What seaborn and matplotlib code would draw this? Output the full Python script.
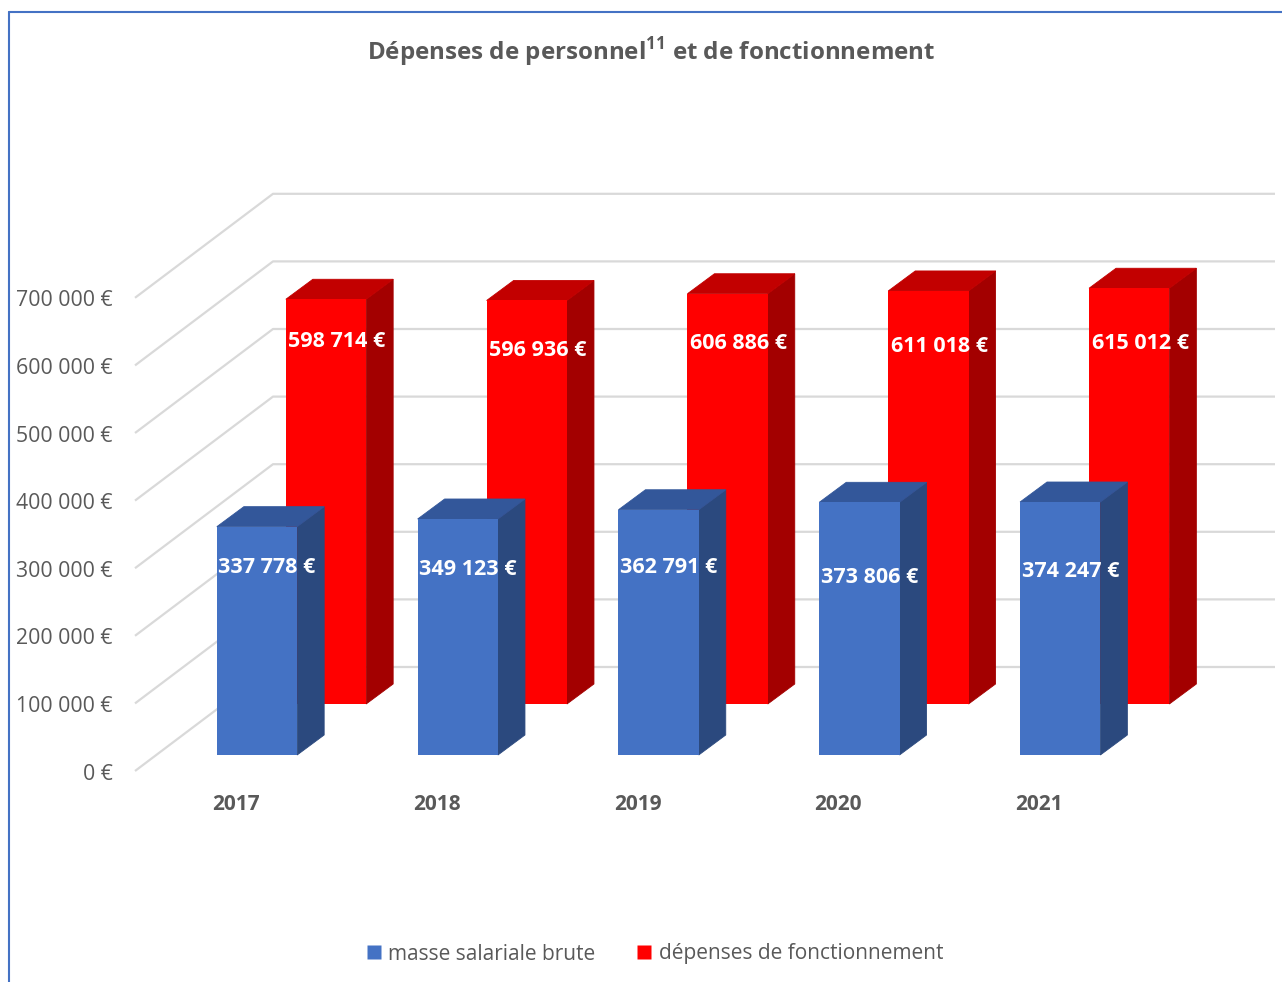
import pandas as pd
import seaborn as sns
import matplotlib.pyplot as plt
from matplotlib.patches import Polygon
from matplotlib.lines import Line2D
from matplotlib.transforms import ScaledTranslation

# Données
annees = ['2017', '2018', '2019', '2020', '2021']
masse_salariale = [337778, 349123, 362791, 373806, 374247]
fonctionnement = [598714, 596936, 606886, 611018, 615012]
graduations = [0, 100000, 200000, 300000, 400000, 500000, 600000, 700000]
series = ['masse salariale brute', 'dépenses de fonctionnement']

# Couleurs (face, côté, dessus)
BLEU = ('#4472C4', '#2B497E', '#33579A')
ROUGE = ('#FF0000', '#A30000', '#C20000')
GRIS = '#595959'

# Mise en page en pixels (pseudo 3D)
CAT_PX = 200.8           # pixels par catégorie
VAL_PX = 67.6 / 100000   # pixels par euro
X0, Y0 = 257, 227        # origine de la rangée avant (depuis le bas)
PROF = (27, 20)          # profondeur d'une barre
RANG = (69, 51)          # décalage de la rangée arrière
MUR_AV = (-122, -16)
MUR_AR = (16, 88)
MUR_FIN = 1018
# étiquettes placées à la main sous le sommet (px)
ETIQ_BLEU = [41, 51, 58, 75, 69]
ETIQ_ROUGE = [42, 50, 50, 56, 55]


def euros(v):
    return f'{v:,.0f} €'.replace(',', ' ')


def faces(ax, bar, couleurs, tr, z):
    x, y = bar.get_x(), bar.get_y()
    w, h = bar.get_width(), bar.get_height()
    dx, dy = PROF[0] / CAT_PX, PROF[1] / VAL_PX
    cote = Polygon([(x + w, y), (x + w + dx, y + dy), (x + w + dx, y + h + dy), (x + w, y + h)],
                   closed=True, facecolor=couleurs[1], edgecolor=couleurs[1], lw=0.6,
                   zorder=z - 0.1, transform=tr)
    dessus = Polygon([(x, y + h), (x + dx, y + h + dy), (x + w + dx, y + h + dy), (x + w, y + h)],
                     closed=True, facecolor=couleurs[2], edgecolor=couleurs[2], lw=0.6,
                     zorder=z - 0.1, transform=tr)
    ax.add_patch(cote)
    ax.add_patch(dessus)


sns.set_style('white')
plt.rcParams['font.family'] = ['Open Sans', 'DejaVu Sans']
plt.rcParams['mathtext.fontset'] = 'custom'
plt.rcParams['mathtext.bf'] = 'Open Sans:bold'
plt.rcParams['mathtext.rm'] = 'Open Sans'

fig = plt.figure(figsize=(12.82, 9.82), dpi=100)
ax = fig.add_axes([0, 0, 1, 1])

df = pd.DataFrame({'annee': annees, 'masse': masse_salariale, 'fonct': fonctionnement})

tr_rouge = ax.transData + ScaledTranslation(RANG[0] / 100, RANG[1] / 100, fig.dpi_scale_trans)

n0 = len(ax.patches)
sns.barplot(data=df, x='annee', y='fonct', color=ROUGE[0], saturation=1, width=0.4,
            errorbar=None, ax=ax, zorder=2, linewidth=0)
barres_rouges = list(ax.patches)[n0:]
n1 = len(ax.patches)
sns.barplot(data=df, x='annee', y='masse', color=BLEU[0], saturation=1, width=0.4,
            errorbar=None, ax=ax, zorder=4, linewidth=0)
barres_bleues = list(ax.patches)[n1:]

for b, v, d in zip(barres_rouges, fonctionnement, ETIQ_ROUGE):
    b.set_transform(tr_rouge)
    faces(ax, b, ROUGE, tr_rouge, 2)
    ax.text(b.get_x() + b.get_width() / 2 + 11 / CAT_PX, v - d / VAL_PX, euros(v),
            transform=tr_rouge, ha='center', va='center', color='white',
            fontsize=15.5, fontweight='bold', zorder=6)

for b, v, d in zip(barres_bleues, masse_salariale, ETIQ_BLEU):
    faces(ax, b, BLEU, ax.transData, 4)
    ax.text(b.get_x() + b.get_width() / 2 + 10 / CAT_PX, v - d / VAL_PX, euros(v),
            ha='center', va='center', color='white',
            fontsize=15.5, fontweight='bold', zorder=6)

# Murs et quadrillage
for v in graduations:
    xs = [MUR_AV[0] / CAT_PX, MUR_AR[0] / CAT_PX, MUR_FIN / CAT_PX]
    ys = [v + MUR_AV[1] / VAL_PX, v + MUR_AR[1] / VAL_PX, v + MUR_AR[1] / VAL_PX]
    ax.plot(xs, ys, color='#D9D9D9', lw=1.6, zorder=0, solid_capstyle='butt')
    ax.text(xs[0] - 22 / CAT_PX, ys[0] - 3 / VAL_PX, euros(v), ha='right', va='center',
            color=GRIS, fontsize=15.3)

for i, a in enumerate(annees):
    ax.text(i - 21 / CAT_PX, -49 / VAL_PX, a, ha='center', va='center',
            color=GRIS, fontsize=15, fontweight='bold')

ax.set_xlim(-X0 / CAT_PX, (1282 - X0) / CAT_PX)
ax.set_ylim(-Y0 / VAL_PX, (982 - Y0) / VAL_PX)
ax.axis('off')

fig.text(651 / 1282, 1 - 52 / 982, r'Dépenses de personnel$^{\mathbf{11}}$ et de fonctionnement',
         ha='center', va='center', color=GRIS, fontsize=17.4, fontweight='bold')

poignees = [Line2D([], [], marker='s', linestyle='none', markersize=9.5,
                   markerfacecolor=c, markeredgecolor='none') for c in (BLEU[0], ROUGE[0])]
fig.legend(poignees, series, loc='center', bbox_to_anchor=(655 / 1282, 1 - 954 / 982),
           ncol=2, frameon=False, fontsize=15, labelcolor=GRIS,
           handlelength=0.7, handletextpad=0.35, columnspacing=2.0)

# Cadre
bord = '#4472C4'
fig.add_artist(Line2D([9 / 1282, 9 / 1282], [0, 1 - 12 / 982], transform=fig.transFigure,
                      color=bord, lw=1.5))
fig.add_artist(Line2D([9 / 1282, 1], [1 - 12 / 982, 1 - 12 / 982], transform=fig.transFigure,
                      color=bord, lw=1.5))

fig.savefig('out.png', dpi=100, facecolor='white')
